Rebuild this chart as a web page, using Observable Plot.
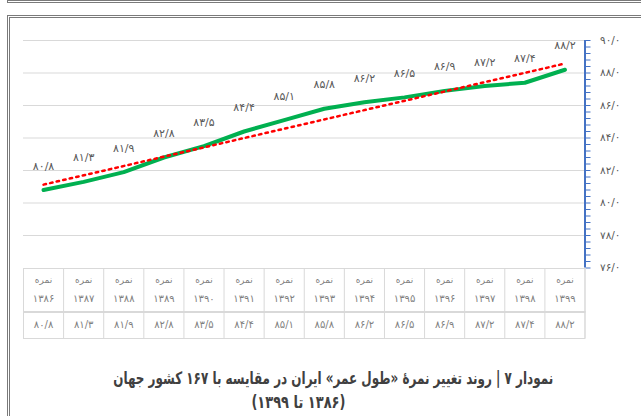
<!DOCTYPE html>
<html><head><meta charset="utf-8">
<script src="https://cdn.jsdelivr.net/npm/d3@7"></script>
<script src="https://cdn.jsdelivr.net/npm/@observablehq/plot@0.6"></script>
<style>
body{margin:0;background:#fff;width:641px;height:416px;overflow:hidden;position:relative;font-family:"DejaVu Sans",sans-serif;}
#prev{position:absolute;left:7px;top:-20px;width:700px;height:20px;border-left:2px solid #7a7a7a;border-bottom:3px double #7a7a7a;}
#box{position:absolute;left:7px;top:15px;width:700px;height:500px;border-left:3px double #7a7a7a;border-top:3px double #7a7a7a;}
.abs{position:absolute;left:0;}
.cap{position:absolute;direction:rtl;text-align:center;font-weight:bold;color:#404040;font-family:"DejaVu Sans Condensed","DejaVu Sans",sans-serif;font-size:17px;white-space:nowrap;}
</style></head>
<body>
<div id="prev"></div>
<div id="box"></div>
<div id="chart" class="abs" style="top:0"></div>
<div id="t1" class="abs" style="top:267px"></div>
<div id="t2" class="abs" style="top:310px"></div>
<div id="c1" class="cap" style="left:33px;width:600px;top:368px">نمودار ۷ | روند تغییر نمرهٔ «طول عمر» ایران در مقایسه با ۱۶۷ کشور جهان</div>
<div id="c2" class="cap" style="left:198px;width:200px;top:392px">(۱۳۸۶ تا ۱۳۹۹)</div>
<script>
const years = [1386,1387,1388,1389,1390,1391,1392,1393,1394,1395,1396,1397,1398,1399];
const values = [80.8,81.3,81.9,82.8,83.5,84.4,85.1,85.8,86.2,86.5,86.9,87.2,87.4,88.2];
const yTicks = [76,78,80,82,84,86,88,90];
const rowLabel = "نمره";

const data = years.map((y,i)=>({year:y, value:values[i]}));
const fa = s => String(s).replace(/\d/g, d => "۰۱۲۳۴۵۶۷۸۹"[d]);
const fmt = v => fa(v.toFixed(1).replace(".", "/"));
const xDomain = [years[0]-0.5, years[years.length-1]+0.5];
const minorTicks = d3.range(0, 36).map(i => 76 + i*0.4);
const font = "DejaVu Sans, sans-serif";
const common = {width:641, marginLeft:23, marginRight:56.5, x:{domain:xDomain, axis:null}};

const chart = Plot.plot({
  ...common, height:278, marginTop:40, marginBottom:10.5,
  y:{domain:[76,90], axis:null},
  style:{fontFamily:font, background:"transparent", overflow:"visible"},
  marks:[
    Plot.gridY(yTicks.filter(t=>t>76), {stroke:"#d9d9d9", strokeOpacity:1, strokeWidth:1}),
    Plot.ruleX([xDomain[1]], {stroke:"#4472C4", strokeWidth:2}),
    Plot.axisY({ticks:minorTicks, anchor:"right", tickSize:5, tickFormat:()=>"", stroke:"#4472C4", strokeOpacity:1, label:null}),
    Plot.axisY({ticks:yTicks, anchor:"right", tickSize:0, tickPadding:15, tickFormat:fmt, fill:"#595959", fontSize:10.5, label:null}),
    Plot.line(data,{x:"year", y:"value", stroke:"#00B050", strokeWidth:4}),
    Plot.linearRegressionY(data,{x:"year", y:"value", ci:0, stroke:"#FF0000", strokeWidth:2.5, strokeDasharray:"2.5 4.2"}),
    Plot.text(data,{x:"year", y:"value", text:d=>fmt(d.value), dy:-24, fill:"#595959", fontSize:11})
  ]
});
document.getElementById("chart").append(chart);

const edges = [xDomain[0], ...years.map(y=>y+0.5)];
const head = Plot.plot({
  ...common, height:46, marginTop:1, marginBottom:1,
  style:{fontFamily:font, background:"transparent"},
  marks:[
    Plot.frame({stroke:"#d9d9d9"}),
    Plot.ruleX(edges,{stroke:"#d9d9d9"}),
    Plot.text(years,{x:d=>d, text:()=>rowLabel, frameAnchor:"middle", dy:-10, fontSize:9, fill:"#7f7f7f"}),
    Plot.text(years,{x:d=>d, text:d=>fa(d), frameAnchor:"middle", dy:8, fontSize:10, fill:"#7f7f7f"})
  ]
});
document.getElementById("t1").append(head);

const vals = Plot.plot({
  ...common, height:29, marginTop:1, marginBottom:1,
  style:{fontFamily:font, background:"transparent"},
  marks:[
    Plot.frame({stroke:"#d9d9d9"}),
    Plot.ruleX(edges,{stroke:"#d9d9d9"}),
    Plot.text(data,{x:"year", text:d=>fmt(d.value), frameAnchor:"middle", fontSize:10, fill:"#7f7f7f"})
  ]
});
document.getElementById("t2").append(vals);

// fit caption lines to the reference widths
function fit(id, target, centre) {
  const el = document.getElementById(id);
  const span = document.createElement("span");
  span.textContent = el.textContent; el.textContent = ""; el.append(span);
  span.style.display = "inline-block";
  const w = span.getBoundingClientRect().width;
  span.style.transform = `scaleX(${Math.min(1, target / w)})`;
  const half = parseFloat(el.style.width) / 2;
  el.style.left = (centre - half) + "px";
}
fit("c1", 440, 333);
fit("c2", 94, 298);
</script>
</body></html>
